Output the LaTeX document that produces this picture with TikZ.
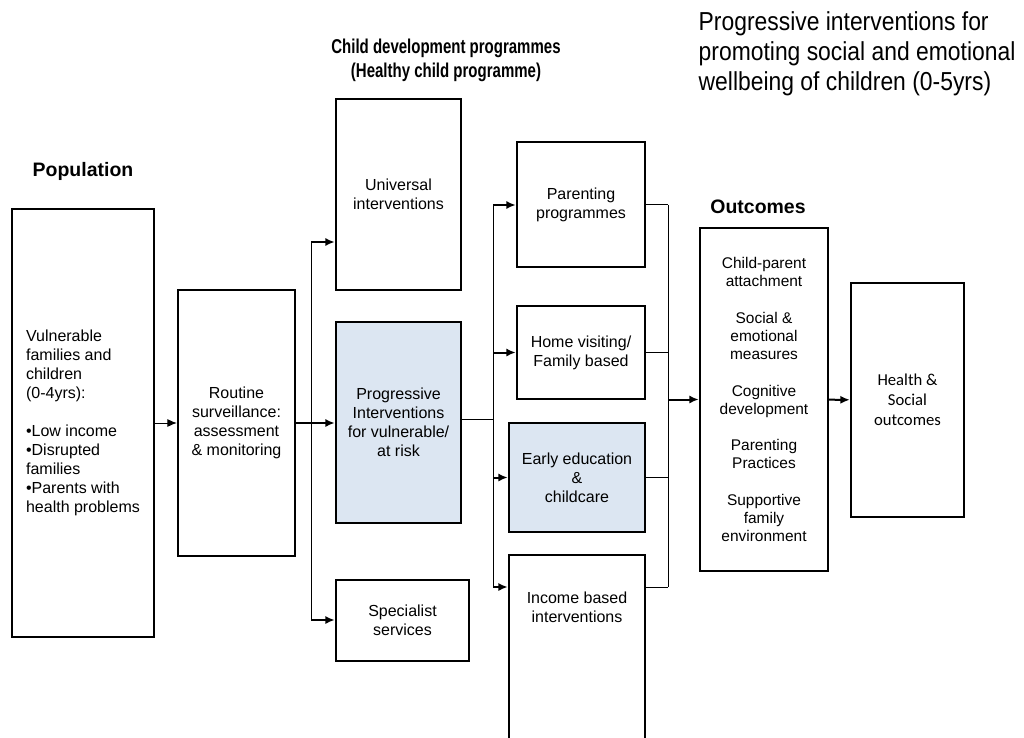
\documentclass[tikz,border=0pt]{standalone}
\usepackage{fontspec}
\setmainfont{Liberation Sans}
\newfontfamily\narrowfont{Liberation Sans}[FakeStretch=0.75]
\newfontfamily\titlefont{Liberation Sans}[FakeStretch=0.88]
\newfontfamily\calibrifont{Carlito}
\usepackage{tikz}
\usetikzlibrary{arrows.meta}
\usetikzlibrary{positioning}
\definecolor{progblue}{HTML}{DCE6F2}
\tikzset{box/.style={draw, line width=1.8pt, align=center, inner sep=0pt, font=\fontsize{12}{14.25}\selectfont}}
\tikzset{bluebox/.style={box, fill=progblue}}
\tikzset{link/.style={line width=0.75pt}}
\tikzset{arr/.style={line width=1.5pt, -{Latex[length=7pt,width=6pt]}}}
\tikzset{thinarr/.style={line width=0.75pt, -{Latex[length=7pt,width=6pt]}}}
\tikzset{head/.style={font=\bfseries\fontsize{14.6}{17}\selectfont}}

\begin{document}
\begin{tikzpicture}[x=0.75pt,y=-0.75pt]
				%\draw[help lines,step=50] (0,0) grid (1024,738);
				\useasboundingbox (0,0) rectangle (1024,738);
				\node [head] (popHead) at (83,171) {Population};
				\node [head, align=center, font=\narrowfont\bfseries\fontsize{15}{18}\selectfont] (progHead) at (446,60) {Child development programmes\\(Healthy child programme)};
				\node [head] (outHead) at (758,207) {Outcomes};
				\node [anchor=west, align=left, font=\titlefont\fontsize{19.5}{22.5}\selectfont] (mainTitle) at (694,54) {Progressive interventions for\\promoting social and emotional\\wellbeing of children (0-5yrs)};

				\node [box, align=left, minimum width=106.5pt, minimum height=321pt] (pop) at (83,423) {Vulnerable\\families and\\children\\(0-4yrs):\\[14.25pt]•Low income\\•Disrupted\\families\\•Parents with\\health problems};
				\node [box, minimum width=87.75pt, minimum height=199.5pt] (routine) at (236.5,423) {Routine\\surveillance:\\assessment\\\& monitoring};

				\node [box, minimum width=93.75pt, minimum height=143.25pt] (univ) at (398.5,194.5) {Universal\\interventions};
				\node [bluebox, minimum width=93.75pt, minimum height=150.75pt] (prog) at (398.5,422.5) {Progressive\\Interventions\\for vulnerable/\\at risk};
				\node [box, minimum width=99.75pt, minimum height=60.75pt] (spec) at (402.5,620.5) {Specialist\\services};

				\node [box, minimum width=96pt, minimum height=93.75pt] (parent) at (581,204.5) {Parenting\\programmes};
				\node [box, minimum width=96pt, minimum height=69.75pt] (home) at (581,352.5) {Home visiting/\\Family based};
				\node [bluebox, minimum width=102pt, minimum height=81.75pt] (early) at (577,477.5) {Early education\\\&\\childcare};
				\node [box, minimum width=102pt, minimum height=153.75pt] (income) at (577,657.5) {};
				\node [align=center, font=\fontsize{12}{14.25}\selectfont] (incomeText) at (577,607) {Income based\\interventions};

				\node [box, font=\fontsize{11.6}{13.5}\selectfont, minimum width=96pt, minimum height=257.25pt] (outc) at (764,399.5) {Child-parent\\attachment\\[14pt]Social \&\\emotional\\measures\\[14pt]Cognitive\\development\\[14pt]Parenting\\Practices\\[14pt]Supportive\\family\\environment};
				\node [box, font=\calibrifont\fontsize{12.5}{15}\selectfont, minimum width=84.75pt, minimum height=175.5pt] (health) at (907.5,400) {Health \&\\Social\\outcomes};

				\coordinate (aTop) at (311,242);
				\coordinate (aBot) at (311,620);
				\coordinate (bTop) at (493,205);
				\coordinate (bMid) at (493,419);
				\coordinate (bBot) at (493,587);
				\coordinate (cTop) at (668,205);
				\coordinate (cBot) at (668,587);

				\draw [thinarr] (pop) -- (routine);
				\draw [arr] (routine) -- (routine -| prog.west);
				\draw [link] (aTop) -- (aBot);
				\draw [arr] (aTop) -- (aTop -| univ.west);
				\draw [arr] (aBot) -- (aBot -| spec.west);

				\draw [link] (prog.east |- bMid) -- (bMid);
				\draw [link] (bTop) -- (bBot);
				\draw [arr] (bTop) -- (bTop -| parent.west);
				\draw [arr] (bTop |- home.west) -- (home.west);
				\draw [arr] (bTop |- early.west) -- (early.west);
				\draw [arr] (bBot) -- (bBot -| income.west);

				\draw [link] (parent.east) -- (parent.east -| cTop);
				\draw [link] (home.east) -- (home.east -| cTop);
				\draw [link] (early.east) -- (early.east -| cTop);
				\draw [link] (cBot -| income.east) -- (cBot);
				\draw [link] (cTop) -- (cBot);
				\draw [arr] (cTop |- outc.west) -- (outc.west);
				\draw [arr] (outc) -- (health);
\end{tikzpicture}
\end{document}
